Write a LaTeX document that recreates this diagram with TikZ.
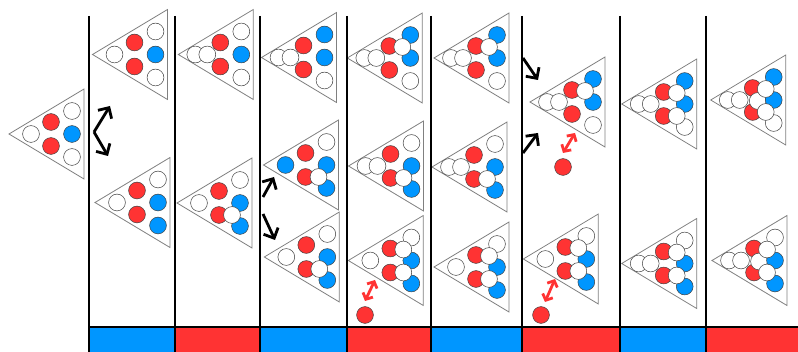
\documentclass[tikz,border=0pt]{standalone}
\usetikzlibrary{arrows.meta}
\definecolor{ballred}{RGB}{255,51,51}
\definecolor{ballblue}{RGB}{0,150,255}

% one rack: vertex of the triangle, then slot/style pairs in drawing order
\newcommand{\rack}[2]{%
  \begin{scope}[shift={#1}]
    \draw[rackline] (0,0) -- (75,-45) -- (75,45) -- cycle;
    \coordinate (sA) at (22,0);  \coordinate (sP) at (17,0);
    \coordinate (sQ) at (29,0);  \coordinate (sM) at (47,1);
    \coordinate (sB) at (42,-12); \coordinate (sC) at (42,12);
    \coordinate (sX) at (55,-11); \coordinate (sY) at (55,12);
    \coordinate (sD) at (63,-23); \coordinate (sE) at (63,0);
    \coordinate (sF) at (63,23);
    \foreach \s/\b in {#2} \node[\b] at (s\s) {};
  \end{scope}}

\begin{document}
\begin{tikzpicture}[
  x=1pt,y=-1pt,
  rackline/.style={draw=black!50,line width=0.8pt},
  ball/.style={circle,draw=black!75,line width=0.5pt,minimum size=16.8pt,inner sep=0pt},
  wb/.style={ball,fill=white},
  rb/.style={ball,fill=ballred},
  bb/.style={ball,fill=ballblue},
  wall/.style={line width=2pt,black},
  move/.style={-{Straight Barb[length=8pt,width=16pt]},line width=2.8pt,black},
  swap/.style={{Straight Barb[length=5pt,width=11pt]}-{Straight Barb[length=5pt,width=11pt]},line width=2.8pt,ballred}
]
  \useasboundingbox (0,0) rectangle (798,352);

  % coloured strip along the bottom
  \foreach \xa/\xb/\c in {89/175/ballblue,175/260/ballred,260/347/ballblue,347/431/ballred,
                          431/522/ballblue,522/620/ballred,620/706/ballblue,706/798/ballred}
    \fill[\c] (\xa,327) rectangle (\xb,352);

  % rack positions
  \coordinate (t0) at (9,134);
  \coordinate (t1a) at (92.5,54.5);  \coordinate (t1b) at (95,202.5);
  \coordinate (t2a) at (178.3,54.5); \coordinate (t2b) at (177,203);
  \coordinate (t3a) at (261.5,57.5); \coordinate (t3b) at (263.5,165); \coordinate (t3c) at (264.3,257);
  \coordinate (t4a) at (347.3,58);   \coordinate (t4b) at (348.5,166); \coordinate (t4c) at (348.3,260.5);
  \coordinate (t5a) at (434,58);     \coordinate (t5b) at (432,167);   \coordinate (t5c) at (434,267);
  \coordinate (t6a) at (530,102);    \coordinate (t6b) at (523.3,259);
  \coordinate (t7a) at (621.7,104);  \coordinate (t7b) at (621.7,263.5);
  \coordinate (t8a) at (710.7,100);  \coordinate (t8b) at (712,260.5);

  \rack{(t0)}{A/wb,B/rb,C/rb,D/wb,E/bb,F/wb}
  \rack{(t1a)}{A/wb,B/rb,C/rb,D/wb,E/bb,F/wb}
  \rack{(t1b)}{A/wb,B/rb,C/rb,D/wb,E/bb,F/bb}
  \rack{(t2a)}{P/wb,Q/wb,B/rb,C/rb,D/wb,E/bb,F/wb}
  \rack{(t2b)}{A/wb,B/rb,C/rb,D/wb,E/bb,F/bb,Y/wb}
  \rack{(t3a)}{P/wb,Q/wb,B/rb,C/rb,D/bb,E/bb,F/wb}
  \rack{(t3b)}{A/bb,B/rb,C/rb,D/wb,E/bb,F/bb,Y/wb}
  \rack{(t3c)}{A/wb,B/rb,C/rb,D/wb,E/bb,F/bb,Y/wb}
  \rack{(t4a)}{P/wb,Q/wb,B/rb,C/rb,D/bb,E/bb,F/wb,X/wb}
  \rack{(t4b)}{P/wb,Q/wb,B/rb,C/rb,D/wb,E/bb,F/bb,Y/wb}
  \rack{(t4c)}{A/wb,B/rb,C/rb,D/wb,E/bb,F/bb,X/wb,Y/wb}
  \rack{(t5a)}{P/wb,Q/wb,B/rb,C/rb,D/bb,E/bb,F/wb,X/wb}
  \rack{(t5b)}{P/wb,Q/wb,B/rb,C/rb,D/wb,E/bb,F/bb,Y/wb}
  \rack{(t5c)}{A/wb,B/rb,C/rb,D/wb,E/bb,F/bb,X/wb,Y/wb}
  \rack{(t6a)}{P/wb,Q/wb,B/rb,C/rb,D/bb,E/bb,F/wb,X/wb}
  \rack{(t6b)}{A/wb,B/rb,C/rb,D/wb,E/bb,F/bb,X/wb,Y/wb}
  \rack{(t7a)}{P/wb,Q/wb,B/rb,C/rb,D/bb,E/bb,F/wb,X/wb,Y/wb}
  \rack{(t7b)}{P/wb,Q/wb,B/rb,C/rb,D/wb,E/bb,F/bb,X/wb,Y/wb}
  \rack{(t8a)}{P/wb,Q/wb,B/rb,C/rb,M/wb,D/bb,E/bb,F/wb,X/wb,Y/wb}
  \rack{(t8b)}{P/wb,Q/wb,B/rb,C/rb,M/wb,D/wb,E/bb,F/bb,X/wb,Y/wb}

  % walls between the stages
  \foreach \x in {89,175,260,347,431,522,620,706}
    \draw[wall] (\x,16) -- (\x,352);
  \draw[wall] (89,327) -- (798,327);

  % branching and merging moves
  \coordinate (f1) at (94,132);   \coordinate (f1u) at (110,106); \coordinate (f1d) at (108,156);
  \coordinate (f3a) at (263,197); \coordinate (f3u) at (274,177);
  \coordinate (f3b) at (263,214); \coordinate (f3d) at (275,240);
  \coordinate (f6a) at (523,58);  \coordinate (f6u) at (538,80);
  \coordinate (f6b) at (523,153); \coordinate (f6d) at (538,133);
  \draw[move] (f1) -- (f1u);
  \draw[move] (f1) -- (f1d);
  \draw[move] (f3a) -- (f3u);
  \draw[move] (f3b) -- (f3d);
  \draw[move] (f6a) -- (f6u);
  \draw[move] (f6b) -- (f6d);

  % released red balls
  \node[rb] (r4) at (365,315) {};
  \node[rb] (r6a) at (563,167) {};
  \node[rb] (r6b) at (541,315) {};
  \coordinate (e4a) at (365,301);  \coordinate (e4b) at (375,280);
  \coordinate (e6a) at (563,153);  \coordinate (e6b) at (575,133);
  \coordinate (e6c) at (545,302);  \coordinate (e6d) at (555,279);
  \draw[swap] (e4a) -- (e4b);
  \draw[swap] (e6a) -- (e6b);
  \draw[swap] (e6c) -- (e6d);
\end{tikzpicture}
\end{document}
